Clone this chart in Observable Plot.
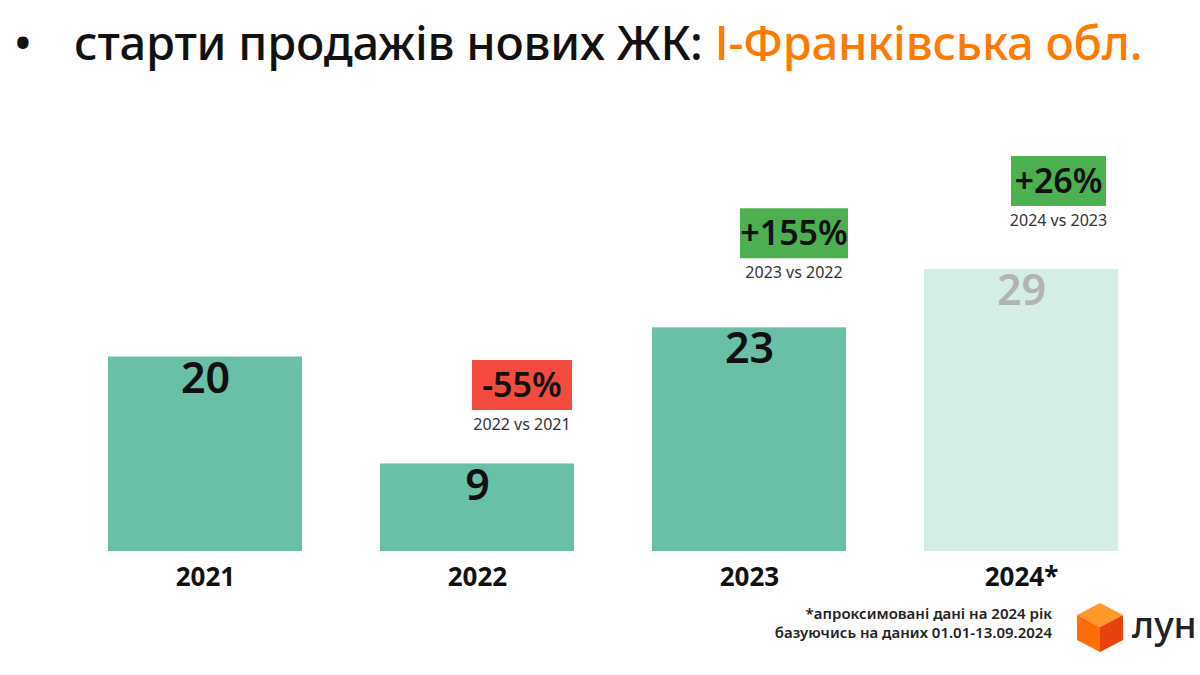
<!DOCTYPE html>
<html>
<head>
<meta charset="utf-8">
<script src="https://cdn.jsdelivr.net/npm/d3@7"></script>
<script src="https://cdn.jsdelivr.net/npm/@observablehq/plot@0.6"></script>
<style>
  html, body { margin: 0; padding: 0; background: #fff; }
  #wrap { position: relative; width: 1200px; height: 675px; overflow: hidden; font-family: "Noto Sans", sans-serif; }
  #chart { position: absolute; left: 0; top: 0; }
  #title { position: absolute; left: 14px; top: 10px; font-size: 47px; font-weight: 500; color: #111; white-space: nowrap; letter-spacing: -0.2px; }
  #title .bullet { display: inline-block; width: 60px; }
  #title .hl { color: #ff7a00; }
  #note { position: absolute; right: 148px; top: 604px; font-size: 15px; font-weight: 600; color: #222; text-align: right; line-height: 18.5px; }
  #logo { position: absolute; left: 1074px; top: 600px; }
  #logoText { position: absolute; left: 1132px; top: 598px; font-size: 37px; font-weight: 500; color: #222; }
</style>
</head>
<body>
<div id="wrap">
  <div id="chart"></div>
  <div id="title"><span class="bullet">•</span>старти продажів нових ЖК: <span class="hl">І-Франківська обл.</span></div>
  <div id="note">*апроксимовані дані на 2024 рік<br>базуючись на даних 01.01-13.09.2024</div>
  <svg id="logo" width="52" height="54" viewBox="0 0 52 54">
    <polygon points="26,3 49,15 26,27 3,15" fill="#ff9a2a"/>
    <polygon points="3,15 26,27 26,52 3,40" fill="#ff6d0a"/>
    <polygon points="49,15 26,27 26,52 49,40" fill="#e8430e"/>
  </svg>
  <div id="logoText">лун</div>
</div>
<script>
// ---- data ----
const years = ["2021", "2022", "2023", "2024*"];
const starts = [20, 9, 23, 29];
const isEstimate = [false, false, false, true];

const badgeYears = ["2022", "2023", "2024*"];
const badgeLabels = ["-55%", "+155%", "+26%"];
const badgeSubs = ["2022 vs 2021", "2023 vs 2022", "2024 vs 2023"];

// ---- layout (pixels) ----
const badgeLift = [79, 94.5, 88.5];
const badgeDx = [44.5, 44.5, 37];
const badgeW = [100, 108, 95];
const badgeH = 50;

const rows = years.map((y, i) => ({year: y, value: starts[i], est: isEstimate[i]}));
const badges = badgeYears.map((y, i) => ({
  year: y,
  value: starts[years.indexOf(y)],
  label: badgeLabels[i],
  sub: badgeSubs[i],
  up: badgeLabels[i].startsWith("+")
}));

const rectSymbol = (w, h) => ({ draw(ctx) { ctx.rect(-w / 2, -h / 2, w, h); } });

const badgeMarks = badges.flatMap((b, i) => [
  Plot.dot([b], {x: "year", y: "value", r: 1, symbol: rectSymbol(badgeW[i], badgeH),
    fill: b.up ? "#4caf50" : "#f44b40", stroke: null, dx: badgeDx[i], dy: -badgeLift[i]}),
  Plot.text([b], {x: "year", y: "value", text: "label", dx: badgeDx[i], dy: -badgeLift[i] + 1,
    fontSize: 34, fontWeight: 600, fill: "#111", textAnchor: "middle"}),
  Plot.text([b], {x: "year", y: "value", text: "sub", dx: badgeDx[i], dy: -badgeLift[i] + 40,
    fontSize: 16, fill: "#333"})
]);

const chart = Plot.plot({
  width: 1200,
  height: 675,
  marginLeft: 29,
  marginRight: 2,
  marginTop: 162,
  marginBottom: 124,
  style: {fontFamily: "'Noto Sans', sans-serif", background: "transparent"},
  x: {domain: years, padding: 0.285, axis: null},
  y: {domain: [0, 40], axis: null},
  marks: [
    Plot.barY(rows, {x: "year", y: "value", fill: d => d.est ? "#d4ede5" : "#6abfa7"}),
    Plot.text(rows, {x: "year", y: "value", text: d => String(d.value), lineAnchor: "top", dy: 5,
      fontSize: 43, fontWeight: 600, fill: d => d.est ? "#b3b3b3" : "#111"}),
    Plot.text(rows, {x: "year", y: () => 0, text: "year", lineAnchor: "top", dy: 16,
      fontSize: 26, fontWeight: 700, fill: "#111"}),
    ...badgeMarks
  ]
});
document.getElementById("chart").appendChild(chart);
</script>
</body>
</html>
